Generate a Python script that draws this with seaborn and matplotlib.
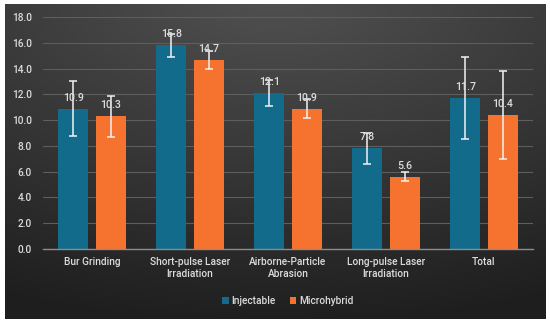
import matplotlib
matplotlib.use("Agg")
import matplotlib.pyplot as plt
import seaborn as sns
import pandas as pd
import numpy as np

categories = ["Bur Grinding", "Short-pulse Laser\nIrradiation", "Airborne-Particle\nAbrasion",
              "Long-pulse Laser\nIrradiation", "Total"]
groups = ["Injectable", "Microhybrid"]
injectable = [10.9, 15.8, 12.1, 7.8, 11.7]
microhybrid = [10.3, 14.7, 10.9, 5.6, 10.4]
injectable_err = [2.1, 0.9, 1.0, 1.2, 3.2]
microhybrid_err = [1.6, 0.7, 0.7, 0.35, 3.4]
yticks = [0, 2, 4, 6, 8, 10, 12, 14, 16, 18]

df = pd.DataFrame({
    "category": categories * 2,
    "material": [groups[0]] * 5 + [groups[1]] * 5,
    "value": injectable + microhybrid,
    "err": injectable_err + microhybrid_err,
})

sns.set_style("white")
plt.rcParams["font.family"] = ["Roboto", "DejaVu Sans"]
text_col = "#dcdcdc"
fs = 7.3

fig = plt.figure(figsize=(5.5, 3.24), dpi=100)
fig.patch.set_facecolor("white")

# dark gradient panel behind the chart
bg = fig.add_axes([5 / 550, 5 / 324, 541 / 550, 315 / 324])
yy, xx = np.mgrid[0:1:200j, 0:1:300j]
d = np.sqrt(((xx - 0.5) * 1.0) ** 2 + ((yy - 1.05) * 1.1) ** 2)
shade = np.clip(0.32 - 0.17 * d, 0.12, 0.32)
bg.imshow(np.dstack([shade] * 3), aspect="auto", origin="lower", extent=[0, 1, 0, 1])
bg.axis("off")

ax = fig.add_axes([43 / 550, 1 - 249 / 324, 490 / 550, 232 / 324])
ax.patch.set_alpha(0)

palette = {"Injectable": "#136b8c", "Microhybrid": "#f6722f"}
sns.barplot(data=df, x="category", y="value", hue="material", palette=palette,
            width=0.76, gap=0.2, ax=ax, errorbar=None, saturation=1, linewidth=0)

for cont, grp in zip(ax.containers, groups):
    sub = df[df["material"] == grp]
    xs = [p.get_x() + p.get_width() / 2 for p in cont.patches]
    ax.errorbar(xs, sub["value"].values, yerr=sub["err"].values, fmt="none",
                ecolor="#f2f2f2", elinewidth=1.1, capsize=3, capthick=1.1, zorder=5)
    for x, v in zip(xs, sub["value"].values):
        ax.annotate(f"{v:.1f}", (x, v), xytext=(0, 11), textcoords="offset pixels",
                    ha="center", va="center", color=text_col, fontsize=fs + 0.4,
                    fontweight="medium", zorder=6)

ax.set_ylim(0, 18)
ax.set_xlim(-0.5, 4.5)
ax.set_yticks(yticks)
ax.set_yticklabels([f"{t:.1f}" for t in yticks], color=text_col, fontsize=fs,
                   fontweight="medium")
for lab in ax.get_xticklabels():
    lab.set_fontweight("medium")
ax.tick_params(axis="x", colors=text_col, labelsize=fs, length=0, pad=6)
ax.tick_params(axis="y", length=0, pad=8)
ax.set_xlabel("")
ax.set_ylabel("")
ax.grid(axis="y", color="#5e5e5e", linewidth=0.8)
ax.set_axisbelow(True)
for s in ["top", "right", "left"]:
    ax.spines[s].set_visible(False)
ax.spines["bottom"].set_color("#8c8c8c")
ax.spines["bottom"].set_linewidth(1.0)

leg = ax.legend(loc="center", bbox_to_anchor=(0.5, -0.225), ncol=2, frameon=False,
                fontsize=fs, handlelength=0.6, handleheight=0.6, handletextpad=0.3,
                columnspacing=1.4)
for t in leg.get_texts():
    t.set_color(text_col)
    t.set_fontweight("medium")
for h in leg.legend_handles:
    h.set_linewidth(0)

fig.savefig("out.png", dpi=100)
